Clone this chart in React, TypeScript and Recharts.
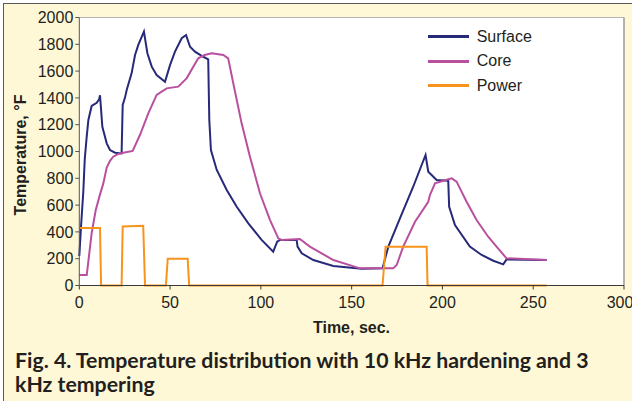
import React from "react";
import { LineChart, Line, XAxis, YAxis, Legend, ReferenceLine, CartesianGrid, Label } from "recharts";

// ---- data ----
const surfaceTime = [0, 1, 2.2, 3, 4, 5, 6.8, 9.6, 11, 11.4, 12.7, 15.1, 16.9, 19.7, 23.3, 23.9, 25.2, 26.1, 28.8, 30.7, 32.5, 35.6, 37.5, 39.9, 42.6, 47.2, 50, 52.7, 56.4, 58.8, 61, 63.7, 68.3, 71, 71.6, 72.5, 75.7, 81.2, 86.7, 93.1, 100.4, 106.8, 109, 110.5, 119.7, 120.2, 122.5, 128.9, 139.9, 155.5, 167, 170.2, 176.6, 183.9, 190.7, 192.2, 196.8, 203.2, 203.7, 206.9, 215.1, 221.6, 228, 233.5, 235.3, 257.4];
const surfaceTemp = [220, 450, 700, 940, 1100, 1235, 1340, 1364, 1392, 1420, 1185, 1061, 1011, 991, 986, 1347, 1404, 1459, 1583, 1720, 1795, 1894, 1733, 1633, 1571, 1521, 1646, 1745, 1845, 1869, 1782, 1745, 1707, 1688, 1235, 1011, 862, 713, 588, 464, 340, 252, 327, 340, 340, 290, 240, 190, 146, 125, 128, 290, 501, 737, 974, 849, 787, 782, 588, 451, 290, 228, 185, 158, 195, 190];

const coreTime = [0, 4.1, 6.8, 9, 11.4, 13.2, 15.1, 16.9, 18.7, 21.5, 24.2, 29.4, 33.4, 38, 42.6, 48.1, 54.5, 59.1, 65.5, 69, 72.9, 79.3, 82, 84.8, 89.4, 94, 99.5, 105, 109.6, 111.4, 121.5, 127, 139.9, 154.6, 172.9, 174.8, 178.4, 184.9, 192.2, 193.1, 195.9, 200.4, 205.1, 207.8, 213.3, 218.8, 225.2, 229.8, 235.3, 257.4];
const coreTemp = [78, 78, 390, 560, 680, 760, 880, 930, 961, 982, 991, 1004, 1123, 1285, 1422, 1471, 1484, 1546, 1695, 1720, 1733, 1720, 1695, 1509, 1210, 961, 688, 489, 352, 340, 347, 290, 190, 128, 128, 153, 290, 476, 625, 675, 763, 782, 800, 775, 625, 489, 364, 290, 203, 190];

const powerTime = [0, 11.4, 12, 23.3, 23.9, 35.2, 36.2, 47.7, 48.7, 59.7, 60.5, 167, 168.7, 191.3, 191.8, 257.4];
const powerValue = [430, 430, 0, 0, 440, 445, 0, 0, 200, 200, 0, 0, 290, 290, 0, 0];

const xTicks = [0, 50, 100, 150, 200, 250, 300];
const yTicks = [0, 200, 400, 600, 800, 1000, 1200, 1400, 1600, 1800, 2000];

const seriesNames = ["Surface", "Core", "Power"];
const captionLines = ["Fig. 4. Temperature distribution with 10 kHz hardening and 3", "kHz tempering"];

const toPoints = (ts: number[], vs: number[]) => ts.map((t, i) => ({ t, v: vs[i] }));
const surfaceData = toPoints(surfaceTime, surfaceTemp);
const coreData = toPoints(coreTime, coreTemp);
const powerData = toPoints(powerTime, powerValue);

const FONT = '"Liberation Sans", Arial, sans-serif';
const TEXT = "#231f20";

const LegendContent = (props: any) => {
  const items = [...(props.payload || [])].sort(
    (a: any, b: any) => seriesNames.indexOf(a.value) - seriesNames.indexOf(b.value)
  );
  return (
    <div style={{ fontFamily: FONT, fontSize: 16, color: TEXT }}>
      {items.map((p: any) => (
        <div key={p.value} style={{ display: "flex", alignItems: "center", height: 24.5 }}>
          <span style={{ display: "inline-block", width: 41, height: 3, background: p.color, marginRight: 8 }} />
          <span>{p.value}</span>
        </div>
      ))}
    </div>
  );
};

export default function App() {
  return (
    <div style={{ position: "absolute", left: 0, top: 0, width: 632, height: 401, background: "#fff" }}>
      <div
        style={{
          position: "absolute",
          left: 3,
          top: 3,
          width: 629,
          height: 398,
          background: "#fff8d6",
          borderTop: "1.5px solid #5a5a5a",
          borderLeft: "1.5px solid #5a5a5a",
          boxSizing: "border-box",
        }}
      />
      <div style={{ position: "absolute", left: 0, top: 0 }}>
        <LineChart width={632} height={401} margin={{ top: 17.5, right: 8, bottom: 85.5, left: 19.3 }}>
          <CartesianGrid horizontal={false} vertical={false} fill="#ffffff" stroke="none" />
          <XAxis
            type="number"
            dataKey="t"
            domain={[0, 300]}
            ticks={xTicks}
            height={30}
            tickSize={4}
            tickMargin={7}
            tick={{ fontSize: 16, fill: TEXT, fontFamily: FONT }}
            stroke="#3a3a3a"
            allowDuplicatedCategory={false}
          >
            <Label
              content={() => (
                <text x={351.5} y={327} textAnchor="middle" dominantBaseline="central" fontFamily={FONT} fontSize={16} fontWeight="bold" fill={TEXT}>
                  Time, sec.
                </text>
              )}
            />
          </XAxis>
          <YAxis
            type="number"
            domain={[0, 2000]}
            ticks={yTicks}
            width={60}
            tickSize={4}
            tick={{ fontSize: 16, fill: TEXT, fontFamily: FONT }}
            stroke="#555555"
          >
            <Label
              content={() => (
                <text x={20} y={155} transform="rotate(-90 20 155)" textAnchor="middle" dominantBaseline="central" fontFamily={FONT} fontSize={16} fontWeight="bold" fill={TEXT}>
                  Temperature, °F
                </text>
              )}
            />
          </YAxis>
          <ReferenceLine y={2000} stroke="#b5b5b5" strokeWidth={1} />
          <ReferenceLine x={300} stroke="#999999" strokeWidth={1.5} />
          <Legend
            layout="vertical"
            align="center"
            verticalAlign="middle"
            content={<LegendContent />}
            wrapperStyle={{ left: 427.7, top: 24.5, width: 140 }}
          />
          <Line data={surfaceData} dataKey="v" name={seriesNames[0]} type="linear" stroke="#272a78" strokeWidth={2} dot={false} isAnimationActive={false} />
          <Line data={coreData} dataKey="v" name={seriesNames[1]} type="linear" stroke="#b9509f" strokeWidth={2} dot={false} isAnimationActive={false} />
          <Line data={powerData} dataKey="v" name={seriesNames[2]} type="linear" stroke="#f7941d" strokeWidth={2} dot={false} isAnimationActive={false} />
        </LineChart>
      </div>
      <div
        style={{
          position: "absolute",
          left: 15,
          top: 347.75,
          fontFamily: "Lato, sans-serif",
          fontWeight: 700,
          fontSize: 21.3,
          lineHeight: "24.5px",
          color: TEXT,
          whiteSpace: "nowrap",
        }}
      >
        {captionLines.map((l) => (
          <div key={l}>{l}</div>
        ))}
      </div>
    </div>
  );
}
